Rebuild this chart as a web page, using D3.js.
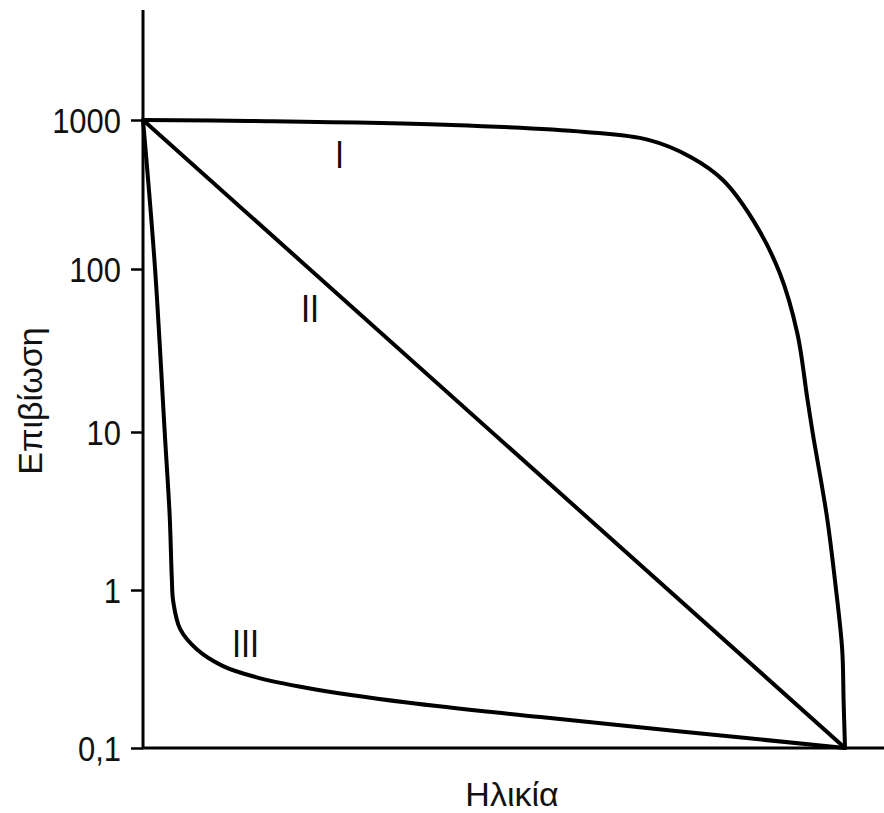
<!DOCTYPE html>
<html>
<head>
<meta charset="utf-8">
<script src="https://cdn.jsdelivr.net/npm/d3@7"></script>
<style>
  html, body { margin: 0; padding: 0; background: #fff; }
  svg { display: block; }
  .lbl { font-family: "Liberation Sans", Arial, sans-serif; fill: #111; }
</style>
</head>
<body>
<svg id="chart" width="884" height="813"></svg>
<script>
'use strict';

// Survivorship curves (log survivors vs age)
const Y_TICKS  = [0.1, 1, 10, 100, 1000];
const Y_LABELS = ['0,1', '1', '10', '100', '1000'];

// age (0–100 of lifespan), survivors
const AGE_I  = [0, 15, 44, 63, 72, 78, 82.6, 86.9, 90.7, 93.2, 94.6, 95.4, 97.4, 98.6, 99.6, 99.8, 100];
const SURV_I = [1000, 985, 926, 831, 735, 565, 396, 213, 94.5, 40.5, 16.4, 9.85, 2.96, 1.12, 0.42, 0.2, 0.1];

const AGE_II  = [0, 100];
const SURV_II = [1000, 0.1];

const AGE_III  = [0, 1.7, 3.1, 3.8, 4.1, 4.3, 5.3, 7.7, 11.4, 16.2, 23.4, 37.6, 56.6, 100];
const SURV_III = [1000, 103, 9.85, 2.96, 1.2, 0.85, 0.565, 0.42, 0.33, 0.28, 0.24, 0.194, 0.157, 0.1];

const CURVE_LABELS = ['I', 'II', 'III'];
const LABEL_POS    = [[28, 591], [23.8, 57], [14.6, 0.46]]; // [age, survivors]

const X_TITLE = 'Ηλικία';
const Y_TITLE = 'Επιβίωση';

const NARROW = 0.86; // condensed look of the printed labels

const svg = d3.select('#chart');

const x = d3.scaleLinear().domain([0, 100]).range([143, 845]);
// hand-drawn decades are not quite even, so one log segment per decade
const y = d3.scaleLog().domain(Y_TICKS).range([748, 590, 432, 269, 120]);

// Y axis
const yAxis = d3.axisLeft(y)
  .tickValues(Y_TICKS)
  .tickSize(12)
  .tickFormat((d, i) => Y_LABELS[i]);

const gy = svg.append('g')
  .attr('transform', `translate(${x(0)},0)`)
  .call(yAxis);
gy.select('.domain').remove();
gy.selectAll('.tick line').attr('stroke', '#000').attr('stroke-width', 2.5);
gy.selectAll('.tick text')
  .attr('class', 'lbl')
  .attr('font-size', 36)
  .attr('x', -22 / NARROW)
  .attr('dy', '0.36em')
  .attr('transform', `scale(${NARROW},1)`);

// axis lines
svg.append('line')
  .attr('x1', x(0)).attr('x2', x(0))
  .attr('y1', 10).attr('y2', y(0.1) + 1)
  .attr('stroke', '#000').attr('stroke-width', 3);
svg.append('line')
  .attr('x1', x(0) - 1).attr('x2', 884)
  .attr('y1', y(0.1)).attr('y2', y(0.1))
  .attr('stroke', '#000').attr('stroke-width', 3);

// curves
const line = d3.line()
  .x(d => x(d[0]))
  .y(d => y(d[1]))
  .curve(d3.curveCatmullRom.alpha(0.5));

const series = [
  { ages: AGE_I,   surv: SURV_I },
  { ages: AGE_II,  surv: SURV_II },
  { ages: AGE_III, surv: SURV_III },
];

svg.append('g')
  .selectAll('path')
  .data(series)
  .join('path')
  .attr('d', s => line(s.ages.map((a, i) => [a, s.surv[i]])))
  .attr('fill', 'none')
  .attr('stroke', '#000')
  .attr('stroke-width', 4)
  .attr('stroke-linejoin', 'round')
  .attr('stroke-linecap', 'round');

// roman numeral labels
svg.append('g')
  .selectAll('text')
  .data(CURVE_LABELS)
  .join('text')
  .attr('class', 'lbl')
  .attr('transform', (d, i) =>
    `translate(${x(LABEL_POS[i][0])},${y(LABEL_POS[i][1])}) scale(${NARROW},1)`)
  .attr('text-anchor', 'middle')
  .attr('dy', '0.36em')
  .attr('font-size', 38)
  .text(d => d);

// titles
svg.append('text')
  .attr('class', 'lbl')
  .attr('x', 512)
  .attr('y', 806)
  .attr('text-anchor', 'middle')
  .attr('font-size', 34)
  .text(X_TITLE);

svg.append('text')
  .attr('class', 'lbl')
  .attr('transform', 'translate(42,401) rotate(-90)')
  .attr('text-anchor', 'middle')
  .attr('font-size', 34)
  .text(Y_TITLE);
</script>
</body>
</html>
